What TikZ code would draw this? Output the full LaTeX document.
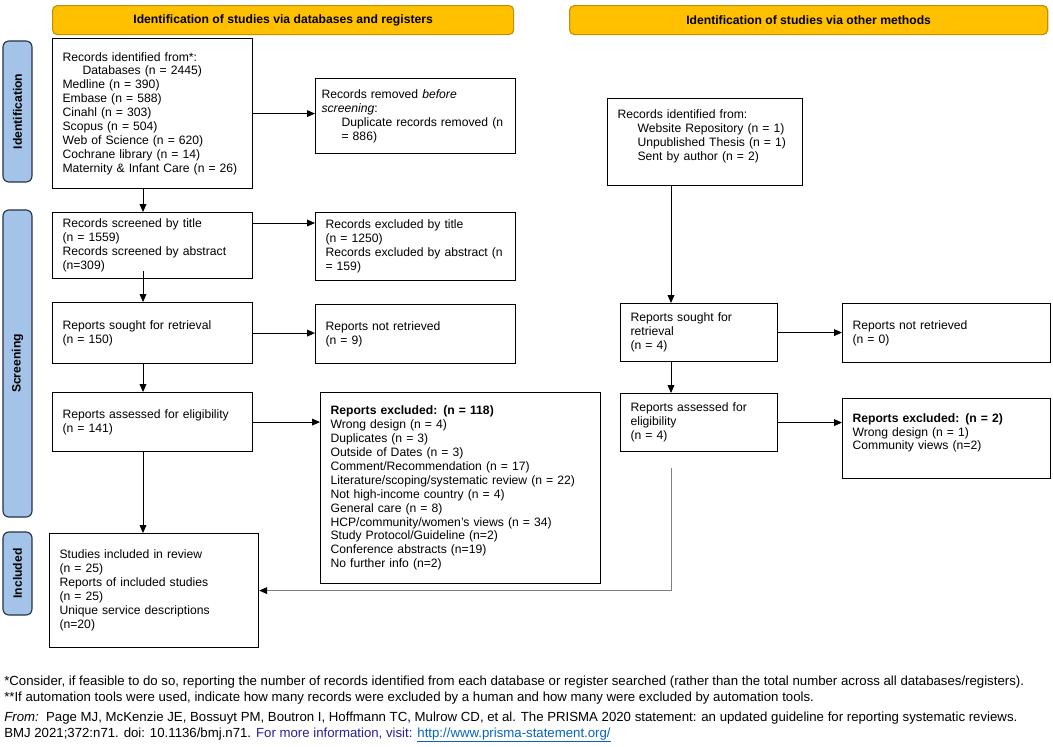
\documentclass[tikz,border=0pt]{standalone}
\usepackage{fontspec}
\setmainfont{Liberation Sans}
\usetikzlibrary{arrows.meta,calc}
\definecolor{hdrfill}{RGB}{255,192,0}
\definecolor{hdrline}{RGB}{191,144,0}
\definecolor{barfill}{RGB}{163,196,232}
\definecolor{barline}{RGB}{38,50,72}
\definecolor{infoblue}{RGB}{40,30,150}
\definecolor{linkblue}{RGB}{5,99,193}
\begin{document}
\begin{tikzpicture}[x=0.025cm,y=-0.025cm,
  font=\fontsize{8.65}{9.9}\selectfont,
  box/.style={draw,line width=0.8pt,align=left,anchor=north west,inner xsep=0.25cm,inner ysep=0pt},
  hdr/.style={draw=hdrline,fill=hdrfill,rounded corners=0.12cm,line width=0.8pt,font=\fontsize{8.65}{9.9}\selectfont\bfseries,minimum height=0.725cm,anchor=north west},
  phase/.style={draw=barline,fill=barfill,rounded corners=0.15cm,line width=0.8pt,font=\fontsize{8.65}{9.9}\selectfont\bfseries,minimum height=0.725cm,rotate=90},
  flow/.style={-{Triangle[length=0.2cm,width=0.17cm]},line width=0.6pt},
  note/.style={anchor=base west,inner sep=0pt,font=\fontsize{9.4}{11.4}\selectfont}]
  % PRISMA 2020 flow diagram, coordinates in pixels of the reference
  \useasboundingbox (0,0) rectangle (1053,746);
  \node[hdr,minimum width=11.525cm] (hdrdb) at (52,5) {Identification of studies via databases and registers};
  \node[hdr,minimum width=11.95cm] (hdrot) at (569,5) {Identification of studies via other methods};
  \node[phase,minimum width=3.525cm] (phid) at (17.5,111.5) {Identification};
  \node[phase,minimum width=7.675cm] (phsc) at (17.5,363.5) {Screening};
  \node[phase,minimum width=2.075cm] (phin) at (17.5,573.5) {Included};
  % databases and registers
  \node[box,text width=4.5cm,minimum height=3.75cm] (recid) at (52,38) {Records identified from*:\\
    \hspace*{0.5cm}Databases (n = 2445)\\
    Medline (n = 390)\\
    Embase (n = 588)\\
    Cinahl (n = 303)\\
    Scopus (n = 504)\\
    Web of Science (n = 620)\\
    Cochrane library (n = 14)\\
    Maternity \& Infant Care (n = 26)};
  \node[box,inner xsep=0.15cm,text width=4.7cm,minimum height=1.875cm] (removed) at (315,78) {Records removed \textit{before}\\
    \textit{screening}:\\
    \hspace*{0.5cm}\mbox{Duplicate records removed (n}\\
    \hspace*{0.5cm}\mbox{= 886)}};
  \node[box,text width=4.5cm,minimum height=1.65cm] (screened) at (52,212) {Records screened by title\\
    (n = 1559)\\
    Records screened by abstract\\
    (n=309)};
  \node[box,text width=4.5cm,minimum height=1.7cm] (excltitle) at (315,212) {Records excluded by title\\
    (n = 1250)\\
    Records excluded by abstract (n\\
    = 159)};
  \node[box,text width=4.5cm,minimum height=1.525cm] (sought) at (52,302) {Reports sought for retrieval\\
    (n = 150)};
  \node[box,text width=4.5cm,minimum height=1.475cm] (notretr) at (315,304) {Reports not retrieved\\
    (n = 9)};
  \node[box,text width=4.5cm,minimum height=1.475cm] (assessed) at (52,392) {Reports assessed for eligibility\\
    (n = 141)};
  \node[box,text width=6.5cm,minimum height=4.775cm] (excl) at (320,392) {\textbf{Reports excluded: (n = 118)}\\
    Wrong design (n = 4)\\
    Duplicates (n = 3)\\
    Outside of Dates (n = 3)\\
    Comment/Recommendation (n = 17)\\
    Literature/scoping/systematic review (n = 22)\\
    Not high-income country (n = 4)\\
    General care (n = 8)\\
    HCP/community/women's views (n = 34)\\
    Study Protocol/Guideline (n=2)\\
    Conference abstracts (n=19)\\
    No further info (n=2)};
  \node[box,text width=4.725cm,minimum height=2.85cm] (included) at (49,533) {Studies included in review\\
    (n = 25)\\
    Reports of included studies\\
    (n = 25)\\
    Unique service descriptions\\
    (n=20)};
  % other methods
  \node[box,text width=4.375cm,minimum height=2.175cm] (recidR) at (607,98) {Records identified from:\\
    \hspace*{0.5cm}Website Repository (n = 1)\\
    \hspace*{0.5cm}Unpublished Thesis (n = 1)\\
    \hspace*{0.5cm}Sent by author (n = 2)\\ \mbox{}};
  \node[box,text width=3.425cm,minimum height=1.45cm] (soughtR) at (620,303) {Reports sought for\\
    retrieval\\
    (n = 4)};
  \node[box,text width=4.7cm,minimum height=1.475cm] (notretrR) at (842,303) {Reports not retrieved\\
    (n = 0)};
  \node[box,text width=3.425cm,minimum height=1.45cm] (assessedR) at (620,393) {Reports assessed for\\
    eligibility\\
    (n = 4)};
  \node[box,text width=4.7cm,minimum height=2cm] (exclR) at (842,398) {\textbf{Reports excluded: (n = 2)}\\
    Wrong design (n = 1)\\
    Community views (n=2)\\ \mbox{}};
  % connectors
  \draw[flow] ($(recid.south west)+(91,0)$) -- ($(screened.north west)+(91,0)$);
  \draw[flow] ($(screened.south west)+(91,-8)$) -- ($(sought.north west)+(91,0)$);
  \draw[flow] ($(sought.south west)+(91,0)$) -- ($(assessed.north west)+(91,0)$);
  \draw[flow] ($(assessed.south west)+(91,0)$) -- ($(included.north west)+(94,0)$);
  \coordinate (s1) at ($(screened.north east)+(0,11)$);
  \draw[flow] (recid.east) -- (recid.east -| removed.west);
  \draw[flow] (s1) -- (s1 -| excltitle.west);
  \draw[flow] (sought.east) -- (sought.east -| notretr.west);
  \draw[flow] (assessed.east) -- (assessed.east -| excl.west);
  \draw[flow] ($(recidR.south west)+(64,0)$) -- ($(soughtR.north west)+(51,0)$);
  \draw[flow] ($(soughtR.south west)+(51,0)$) -- ($(assessedR.north west)+(51,0)$);
  \draw[flow] (soughtR.east) -- (soughtR.east -| notretrR.west);
  \draw[flow] (assessedR.east) -- (assessedR.east -| exclR.west);
  \coordinate (g0) at ($(assessedR.south west)+(51,16)$);
  \draw[gray,line width=0.6pt,-{Triangle[length=0.2cm,width=0.17cm,color=black]}] (g0) |- (included.east);
  % footnotes
  \node[note] (note1) at (4,685) {*Consider, if feasible to do so, reporting the number of records identified from each database or register searched (rather than the total number across all databases/registers).};
  \node[note] (note2) at (4,701) {**If automation tools were used, indicate how many records were excluded by a human and how many were excluded by automation tools.};
  \node[note] (src1) at (4,721) {\textit{From:}\ \ Page MJ, McKenzie JE, Bossuyt PM, Boutron I, Hoffmann TC, Mulrow CD, et al. The PRISMA 2020 statement: an updated guideline for reporting systematic reviews.};
  \node[note] (src2) at (4,737) {BMJ 2021;372:n71. doi: 10.1136/bmj.n71. \textcolor{infoblue}{For more information, visit:} \textcolor{linkblue}{\underline{http://www.prisma-statement.org/}}};
\end{tikzpicture}
\end{document}
